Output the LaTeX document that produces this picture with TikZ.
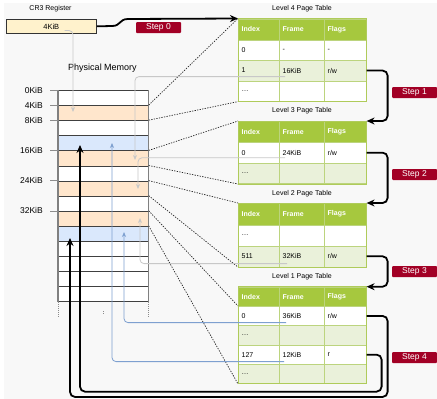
\documentclass[tikz,border=0pt]{standalone}
\usepackage{fontspec}
\setmainfont{Liberation Sans}
\usetikzlibrary{arrows.meta,calc}
\definecolor{bgc}{HTML}{F8F8F8}
\definecolor{hdr}{HTML}{A6C83E}
\definecolor{rowg}{HTML}{EAF1DA}
\definecolor{tbord}{HTML}{BCD47E}
\definecolor{tout}{HTML}{AFCB5A}
\definecolor{stepred}{HTML}{A20025}
\definecolor{orng}{HTML}{FFE6CC}
\definecolor{blu}{HTML}{DAE8FC}
\definecolor{yel}{HTML}{FFF2CC}
\definecolor{gline}{HTML}{C8C8C8}
\definecolor{bline}{HTML}{7EA0D0}
\newcommand{\trow}[7]{%
  \node[cellbox,#4,minimum width=41pt,minimum height=#3pt] (#1a) at (238,#2) {};
  \node[cellbox,#4,minimum width=45pt,minimum height=#3pt] (#1b) at (279,#2) {};
  \node[cellbox,#4,minimum width=42pt,minimum height=#3pt] (#1c) at (324,#2) {};
  \node[celltext,#4,draw=none] (#1at) at ([xshift=3.5pt]#1a.west) {#5};
  \node[celltext,#4,draw=none] (#1bt) at ([xshift=3.5pt]#1b.west) {#6};
  \node[celltext,#4,draw=none] (#1ct) at ([xshift=3.5pt]#1c.west) {#7};
}
\begin{document}
\begin{tikzpicture}[x=1pt,y=-1pt,
  cellbox/.style={anchor=north west,inner sep=0pt,draw=tbord,line width=0.6pt,fill=white},
  celltext/.style={anchor=west,inner sep=0pt,font=\fontsize{7}{8}\selectfont},
  hdrcell/.style={fill=hdr,text=white,font=\fontsize{7}{8}\selectfont\bfseries},
  wcell/.style={fill=white},
  gcell/.style={fill=rowg},
  tabframe/.style={draw=tout,line width=1pt},
  tabtitle/.style={font=\fontsize{7}{8}\selectfont,inner sep=0pt},
  memrow/.style={anchor=north west,inner sep=0pt,minimum width=90pt,minimum height=15.1pt,draw=black!75,line width=0.7pt},
  memlabel/.style={anchor=east,inner sep=0pt,font=\fontsize{8.5}{9}\selectfont},
  tick/.style={draw=black!45,line width=0.6pt},
  stepbox/.style={fill=stepred,text=white,rounded corners=1pt,minimum width=45pt,minimum height=11pt,inner sep=0pt,font=\fontsize{8.5}{9}\selectfont},
  steparrow/.style={draw=black,line width=1.8pt,rounded corners=5pt,-{Stealth[length=8pt,width=7pt]}},
  grayarrow/.style={draw=gline,line width=0.8pt,rounded corners=4pt,-{Stealth[length=5pt,width=4pt]}},
  bluearrow/.style={draw=bline,line width=0.8pt,rounded corners=4pt,-{Stealth[length=5pt,width=4pt]}},
  dotline/.style={draw=black!85,line width=0.7pt,dash pattern=on 1.3pt off 1.3pt},
  contline/.style={draw=black!45,line width=0.6pt,dash pattern=on 1pt off 1pt}
]
\useasboundingbox (0,0) rectangle (437,399);
\fill[white] (0,0) rectangle (437,399);
\fill[bgc] (4,3) rectangle (437,399);

% CR3 register
\node[tabtitle] (cr3t) at (50.5,9) {CR3 Register};
\node[draw=black!80,fill=yel,line width=0.7pt,anchor=north west,minimum width=90.5pt,minimum height=14.6pt,inner sep=0pt,font=\fontsize{7.5}{8}\selectfont] (cr3) at (5.7,18.7) {4KiB};

% Physical memory
\node[font=\fontsize{9}{10}\selectfont,inner sep=0pt] (pmt) at (102.5,68) {Physical Memory};
\foreach \i/\f in {0/white,1/orng,2/white,3/blu,4/orng,5/white,6/orng,7/white,8/orng,9/blu,10/white,11/white,12/white,13/white}
  \node[memrow,fill=\f] (m\i) at (58,{90+15.1*\i}) {};
\draw[draw=black!50,line width=1.2pt] (m0.north west) -- (m13.south west);
\draw[draw=black!50,line width=1.2pt] (m0.north east) -- (m13.south east);
\draw[contline] (m13.south west) -- ++(0,16) coordinate (cw);
\draw[contline] (m13.south east) -- ++(0,16) coordinate (ce);
\draw[contline] ($(m13.south)+(0,9)$) coordinate (cm1) -- ++(0,4) coordinate (cm2);
\foreach \i/\t in {0/0KiB,1/4KiB,2/8KiB,4/16KiB,6/24KiB,8/32KiB} {
  \draw[tick] (m\i.north west) -- ++(-8,0) coordinate (tk\i);
  \node[memlabel] (ml\i) at ([xshift=-7pt]tk\i) {\t};
}

% Tables
\node[tabtitle] (L4t) at (302,9) {Level 4 Page Table};
\trow{L4h}{18.5}{21}{hdrcell}{Index}{Frame}{Flags}
\trow{L4r0}{39.5}{20.5}{wcell}{0}{-}{-}
\trow{L4r1}{60}{20.5}{gcell}{1}{16KiB}{r/w}
\trow{L4r2}{80.5}{20.5}{wcell}{\dots}{}{}
\draw[tabframe] (L4ha.north west) rectangle (L4r2c.south east);

\node[tabtitle] (L3t) at (302,111) {Level 3 Page Table};
\trow{L3h}{121}{21}{hdrcell}{Index}{Frame}{Flags}
\trow{L3r0}{142}{20.7}{wcell}{0}{24KiB}{r/w}
\trow{L3r1}{162.7}{20.7}{gcell}{\dots}{}{}
\draw[tabframe] (L3ha.north west) rectangle (L3r1c.south east);

\node[tabtitle] (L2t) at (302,194) {Level 2 Page Table};
\trow{L2h}{203}{21.5}{hdrcell}{Index}{Frame}{Flags}
\trow{L2r0}{224.5}{21}{wcell}{\dots}{}{}
\trow{L2r1}{245.5}{21}{gcell}{511}{32KiB}{r/w}
\draw[tabframe] (L2ha.north west) rectangle (L2r1c.south east);

\node[tabtitle] (L1t) at (302,277) {Level 1 Page Table};
\trow{L1h}{286.7}{19.3}{hdrcell}{Index}{Frame}{Flags}
\trow{L1r0}{306}{19.3}{wcell}{0}{36KiB}{r/w}
\trow{L1r1}{325.3}{19.4}{gcell}{\dots}{}{}
\trow{L1r2}{344.7}{19.3}{wcell}{127}{12KiB}{r}
\trow{L1r3}{364}{19.3}{gcell}{\dots}{}{}
\draw[tabframe] (L1ha.north west) rectangle (L1r3c.south east);

% dotted lines memory -> tables
\draw[dotline] (m1.north east) -- (L4ha.north west);
\draw[dotline] (m2.north east) -- (L4r2a.south west);
\draw[dotline] (m4.north east) -- (L3ha.north west);
\draw[dotline] (m5.north east) -- (L3r1a.south west);
\draw[dotline] (m6.north east) -- (L2ha.north west);
\draw[dotline] (m7.north east) -- (L2r1a.south west);
\draw[dotline] (m8.north east) -- (L1r0a.north west);
\draw[dotline] (m9.north east) -- (L1r3a.south west);

% gray / blue frame pointers
\coordinate (cr3e) at (73,112);
\coordinate (g16) at (135,160);
\coordinate (g24) at (138,189);
\coordinate (g32) at (140,218);
\coordinate (b36) at (124,232);
\coordinate (b12) at (112,143);
\draw[grayarrow] ($(cr3.south west)+(59,-3.5)$) -| (cr3e);
\draw[grayarrow] ($(L4r1b.south west)+(6,-4.5)$) -| (g16);
\draw[grayarrow] ($(L3r0b.south west)+(6,-5.5)$) -| (g24);
\draw[grayarrow] ($(L2r1b.south west)+(8,-3.5)$) -| (g32);
\draw[bluearrow] ($(L1r0b.south west)+(7,-3.3)$) -| (b36);
\draw[bluearrow] ($(L1r2b.south west)+(5,-3)$) -| (b12);

% steps
\node[stepbox] (step0) at (158.5,27.5) {Step 0};
\node[stepbox] (step1) at (414.5,92.5) {Step 1};
\node[stepbox] (step2) at (414.5,174.5) {Step 2};
\node[stepbox] (step3) at (414.5,271.5) {Step 3};
\node[stepbox] (step4) at (414.5,357.5) {Step 4};

\coordinate (t36) at (70,238);
\coordinate (t12) at (80,145);
\draw[steparrow,rounded corners=0pt] (cr3.east) -- (112,26) .. controls (121,26) and (119,19) .. (128,19) -- (L4ha.north west);
\draw[steparrow] (L4r1c.east) -- ++(21,0) |- (L3hc.north east);
\draw[steparrow] (L3r0c.east) -- ++(21,0) |- (L2hc.north east);
\draw[steparrow] (L2r1c.east) -- ++(21,0) |- (L1hc.north east);
\draw[steparrow] (L1r0c.east) -- ++(21,0) -- ++(0,81) -| (t36);
\draw[steparrow] (L1r2c.east) -- ++(15,0) -- ++(0,37) -| (t12);
\end{tikzpicture}
\end{document}
